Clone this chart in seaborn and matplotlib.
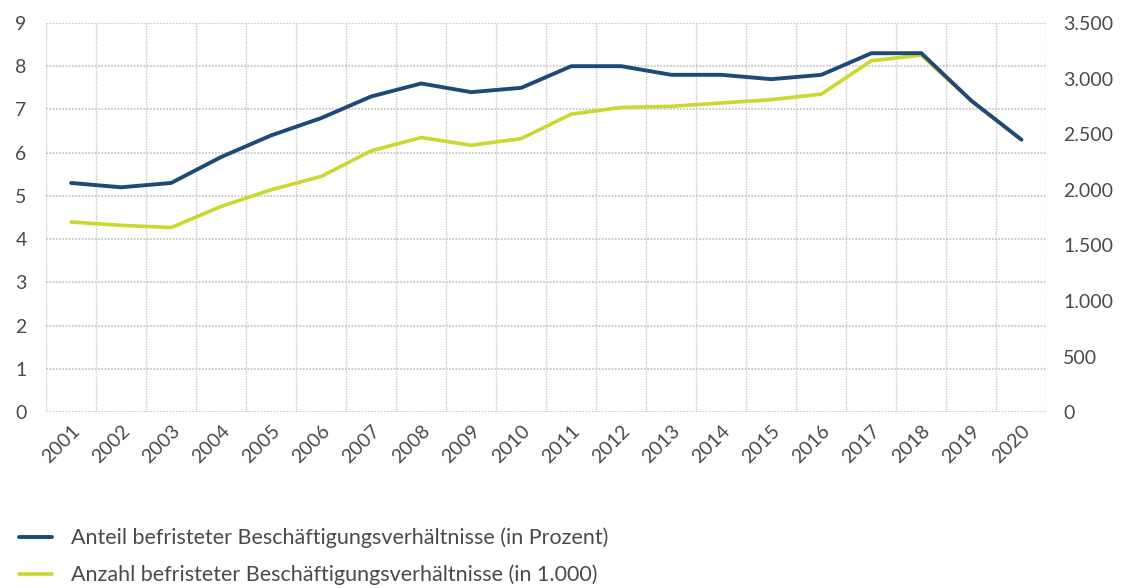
import matplotlib
matplotlib.use("Agg")
import matplotlib.pyplot as plt
import seaborn as sns
import pandas as pd
import numpy as np

years = [str(y) for y in range(2001, 2021)]
anteil = [5.3, 5.2, 5.3, 5.9, 6.4, 6.8, 7.3, 7.6, 7.4, 7.5,
          8.0, 8.0, 7.8, 7.8, 7.7, 7.8, 8.3, 8.3, 7.2, 6.3]
anzahl = [1710, 1680, 1660, 1850, 2000, 2120, 2350, 2470, 2400, 2460,
          2680, 2740, 2750, 2780, 2810, 2860, 3160, 3210, 2800, 2450]
left_ticks = list(range(0, 10))
right_ticks = [0, 500, 1000, 1500, 2000, 2500, 3000, 3500]
right_labels = ["0", "500", "1.000", "1.500", "2.000", "2.500", "3.000", "3.500"]
label_anteil = "Anteil befristeter Beschäftigungsverhältnisse (in Prozent)"
label_anzahl = "Anzahl befristeter Beschäftigungsverhältnisse (in 1.000)"

BLUE = "#1d4a78"
YELLOW = "#cbd82c"
GRID = "#c8c8c8"
TXT = "#4a4a4a"

sns.set_theme(style="white")
plt.rcParams["font.family"] = ["Lato", "DejaVu Sans"]

df = pd.DataFrame({"year": years, "anteil": anteil, "anzahl": anzahl})
df["x"] = np.arange(len(years))

fig = plt.figure(figsize=(11.24, 5.88), dpi=100)
ax = fig.add_axes([0.041, 0.299, 0.890, 0.662])
ax2 = ax.twinx()

sns.lineplot(data=df, x="x", y="anzahl", ax=ax2, color=YELLOW, linewidth=2.6, label=label_anzahl, legend=False)
sns.lineplot(data=df, x="x", y="anteil", ax=ax, color=BLUE, linewidth=2.8, label=label_anteil, legend=False)

# make blue line draw above the yellow line
ax.set_zorder(ax2.get_zorder() + 1)
ax.patch.set_visible(False)

ax.set_xlim(-0.5, len(years) - 0.5)
ax.set_ylim(0, 9)
ax2.set_ylim(0, 3500)

ax.set_yticks(left_ticks)
ax.set_yticklabels([str(t) for t in left_ticks])
ax2.set_yticks(right_ticks)
ax2.set_yticklabels(right_labels)

ax.set_xticks(df["x"])
ax.set_xticklabels(years, rotation=45, ha="right", rotation_mode="anchor")

ax.grid(False)
ax2.grid(False)
for yv in left_ticks:
    ax2.axhline(yv * 3500 / 9, color=GRID, linestyle=(0, (1.0, 0.8)), linewidth=1.3, zorder=0)
for xv in np.arange(-0.5, len(years), 1.0):
    ax2.axvline(xv, color=GRID, linestyle=(0, (1.0, 0.8)), linewidth=1.0, zorder=0)

for a in (ax, ax2):
    for s in a.spines.values():
        s.set_visible(False)
    a.set_xlabel("")
    a.set_ylabel("")

ax.tick_params(axis="y", length=0, labelsize=14, labelcolor=TXT, pad=14)
ax.tick_params(axis="x", which="both", length=0, labelsize=14, labelcolor=TXT, pad=7)
ax2.tick_params(axis="y", length=0, labelsize=14, labelcolor=TXT, pad=12)

h1, l1 = ax.get_legend_handles_labels()
h2, l2 = ax2.get_legend_handles_labels()
fig.legend(h1 + h2, l1 + l2, loc="lower left", bbox_to_anchor=(0.0, -0.028),
           frameon=False, fontsize=15.5, labelcolor=TXT, handlelength=1.5,
           handletextpad=0.9, labelspacing=0.75)

fig.savefig("out.png", dpi=100)
